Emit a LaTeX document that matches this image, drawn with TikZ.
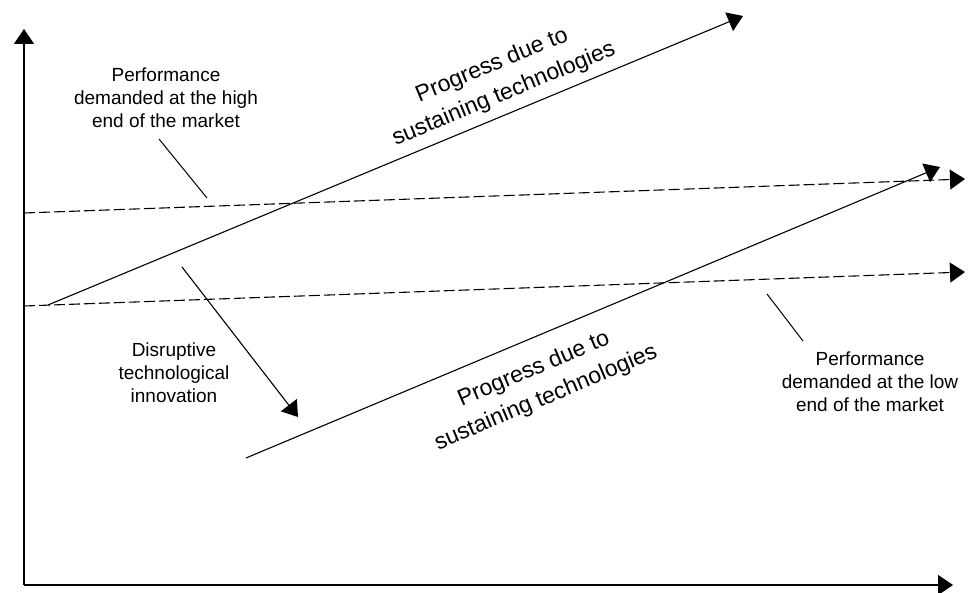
\documentclass[tikz,border=0pt]{standalone}
\usepackage{fontspec}
\setmainfont{Liberation Sans}
\usetikzlibrary{arrows.meta}
\tikzset{
  tip/.style={-{Triangle[length=15pt,width=20pt]}},
  axisline/.style={line width=1.5pt, tip},
  solidline/.style={line width=1.1pt},
  dashline/.style={line width=1.1pt, dash pattern=on 11pt off 4pt},
  leader/.style={line width=1pt},
  smalltext/.style={align=center, inner sep=0pt, font=\fontsize{19}{23}\selectfont},
  bigtext/.style={align=center, inner sep=0pt, font=\fontsize{23}{31}\selectfont},
}
\begin{document}
\begin{tikzpicture}[x=1pt,y=-1pt]
\useasboundingbox (0,0) rectangle (972,593);
% coordinates
\coordinate (O) at (24,585);
\coordinate (Ytip) at (24,29);
\coordinate (Xtip) at (953,585);
\coordinate (u0) at (48,305);
\coordinate (u1) at (743,16);
\coordinate (l0) at (246,458);
\coordinate (l1) at (940,167);
\coordinate (h0) at (24,213);
\coordinate (h1) at (965,179);
\coordinate (d0) at (24,306);
\coordinate (d1) at (965,272);
\coordinate (s0) at (182,267);
\coordinate (s1) at (298,417);
\coordinate (ha) at (159,139);
\coordinate (hb) at (207,198);
\coordinate (la) at (767,294);
\coordinate (lb) at (803,341);
% axes
\draw[axisline] (O) -- (Ytip);
\draw[axisline] (O) -- (Xtip);
% dashed market lines
\draw[dashline, tip] (h0) -- (h1);
\draw[dashline, tip] (d0) -- (d1);
% sustaining progress lines
\draw[solidline, tip] (u0) -- (u1);
\draw[solidline, tip] (l0) -- (l1);
% disruptive arrow
\draw[solidline, tip] (s0) -- (s1);
% leaders
\draw[leader] (ha) -- (hb);
\draw[leader] (la) -- (lb);
% labels
\node[smalltext] (hightext) at (166,98) {Performance\\demanded at the high\\end of the market};
\node[smalltext] (lowtext) at (870,382) {Performance\\demanded at the low\\end of the market};
\node[smalltext] (disrtext) at (174,373) {Disruptive\\technological\\innovation};
\node[bigtext, rotate=22.5] (uptext) at (498,80) {Progress due to\\sustaining technologies};
\node[bigtext, rotate=23] (lotext) at (540,384) {Progress due to\\sustaining technologies};
\end{tikzpicture}
\end{document}
